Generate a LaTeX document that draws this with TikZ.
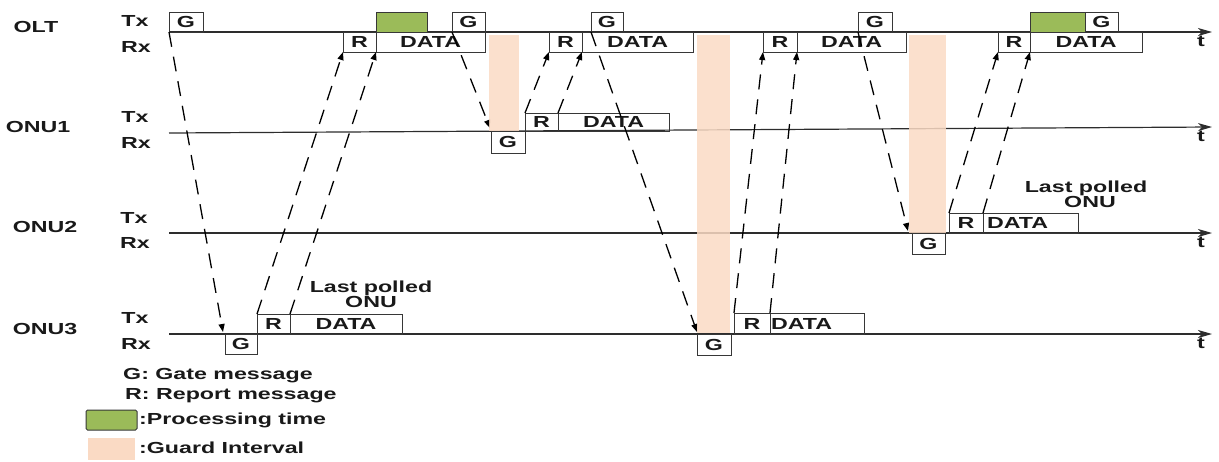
\documentclass[tikz,border=0pt]{standalone}
\usepackage{fontspec}
\newfontfamily\lbfont{Liberation Sans}[FakeStretch=1.45]
\usetikzlibrary{arrows.meta,calc}
\definecolor{procg}{RGB}{155,187,89}
\definecolor{guardc}{RGB}{250,218,196}
\definecolor{linec}{RGB}{45,45,45}
\definecolor{boxc}{RGB}{55,55,55}
\definecolor{txtc}{RGB}{25,25,25}
\newcommand\mylbl{\lbfont\bfseries\fontsize{16}{18}\selectfont}
\newcommand\Bx[7]{\node[box,#6,minimum width={#4-#2},minimum height={#5-#3}] (#1) at (#2,#3) {#7};}
\begin{document}
\begin{tikzpicture}[x=1pt,y=-1pt,
 box/.style={draw=boxc,line width=1pt,inner sep=0pt,outer sep=0pt,anchor=north west,font=\mylbl,text=txtc},
 proc/.style={fill=procg},
 txt/.style={font=\mylbl,text=txtc,inner sep=0pt,anchor=base},
 tline/.style={draw=linec,line width=1.2pt,-{Stealth[length=14pt,width=8pt,inset=4pt]}},
 msg/.style={draw=black,line width=1.3pt,dash pattern=on 15pt off 10pt,-{Triangle[length=8pt,width=6pt]}},
 guard/.style={fill=guardc,fill opacity=0.85}]
\useasboundingbox (0,0) rectangle (1219,461);
% row labels
\node[txt] (lolt) at (36,32) {OLT};
\node[txt] (ltx0) at (135,26) {Tx};
\node[txt] (lrx0) at (136,52) {Rx};
\node[txt] (lonu1) at (38,132) {ONU1};
\node[txt] (ltx1) at (135,122) {Tx};
\node[txt] (lrx1) at (136,148) {Rx};
\node[txt] (lonu2) at (45,232) {ONU2};
\node[txt] (ltx2) at (134,223) {Tx};
\node[txt] (lrx2) at (135,248) {Rx};
\node[txt] (lonu3) at (45,334) {ONU3};
\node[txt] (ltx3) at (135,323) {Tx};
\node[txt] (lrx3) at (136,349) {Rx};
% timelines
\coordinate (s0) at (169,32);  \coordinate (e0) at (1212,32);
\coordinate (s1) at (169,133); \coordinate (e1) at (1212,127);
\coordinate (s2) at (169,233); \coordinate (e2) at (1212,233);
\coordinate (s3) at (169,334); \coordinate (e3) at (1212,334);
\draw[tline] (s0) -- (e0);
\draw[tline] (s1) -- (e1);
\draw[tline] (s2) -- (e2);
\draw[tline] (s3) -- (e3);
\node[txt] (t0) at (1201,46) {t};
\node[txt] (t1) at (1201,141) {t};
\node[txt] (t2) at (1201,247) {t};
\node[txt] (t3) at (1201,348) {t};
% OLT Tx
\Bx{og1}{169}{12}{203}{32}{}{G}
\Bx{op1}{376}{12}{427}{32}{proc}{}
\Bx{og2}{452}{12}{485}{32}{}{G}
\Bx{og3}{591}{12}{623}{32}{}{G}
\Bx{og4}{858}{12}{892}{32}{}{G}
\Bx{op2}{1030}{12}{1085}{32}{proc}{}
\Bx{og5}{1085}{12}{1118}{32}{}{G}
% OLT Rx
\Bx{or1}{343}{32}{376}{52}{}{R}
\Bx{od1}{376}{32}{485}{52}{}{DATA}
\Bx{or2}{549}{32}{582}{52}{}{R}
\Bx{od2}{582}{32}{693}{52}{}{DATA}
\Bx{or3}{763}{32}{797}{52}{}{R}
\Bx{od3}{797}{32}{906}{52}{}{DATA}
\Bx{or4}{998}{32}{1030}{52}{}{R}
\Bx{od4}{1030}{32}{1142}{52}{}{DATA}
% ONU1
\Bx{ag}{491}{131}{525}{153}{}{G}
\Bx{ar}{525}{113}{558}{131}{}{R}
\Bx{ad}{558}{113}{669}{131}{}{DATA}
% ONU2
\Bx{bg}{912}{233}{945}{254}{}{G}
\Bx{br}{949}{213}{983}{233}{}{R}
\Bx{bd}{983}{213}{1078}{233}{}{}
\node[txt,anchor=west] (bdt) at ($(bd.west)+(4,0)$) {DATA};
% ONU3
\Bx{cg1}{225}{334}{257}{354}{}{G}
\Bx{cr1}{257}{314}{290}{334}{}{R}
\Bx{cd1}{290}{314}{402}{334}{}{DATA}
\Bx{cg2}{697}{334}{731}{355}{}{G}
\Bx{cr2}{734}{313}{770}{334}{}{R}
\Bx{cd2}{770}{313}{864}{334}{}{}
\node[txt,anchor=west] (cdt) at ($(cd2.west)+(1,0)$) {DATA};
% last polled
\node[txt] (lp1a) at (371,292) {Last polled};
\node[txt] (lp1b) at (371,307) {ONU};
\node[txt] (lp2a) at (1086,192) {Last polled};
\node[txt] (lp2b) at (1090,207) {ONU};
% messages
\draw[msg] (og1.south west) -- ($(cg1.north west)+(-2,-2)$);
\draw[msg] (cr1.north west) -- (or1.south west);
\draw[msg] (cd1.north west) -- (od1.south west);
\draw[msg] (og2.south west) -- ($(ag.north west)+(-1,-3)$);
\draw[msg] (ar.north west) -- (or2.south west);
\draw[msg] (ad.north west) -- (od2.south west);
\draw[msg] (og3.south west) -- ($(cg2.north west)+(0,-2)$);
\draw[msg] (cr2.north west) -- (or3.south west);
\draw[msg] (cd2.north west) -- (od3.south west);
\draw[msg] (og4.south west) -- ($(bg.north west)+(-4,-2)$);
\draw[msg] (br.north west) -- (or4.south west);
\draw[msg] (bd.north west) -- (od4.south west);
% guard intervals
\fill[guard] (489,35) rectangle (519,131);
\fill[guard] (697,35) rectangle (730,333);
\fill[guard] (909,35) rectangle (946,233);
% legend
\node[txt,anchor=base west] (lg1) at (123,379) {G: Gate message};
\node[txt,anchor=base west] (lg2) at (125,399) {R: Report message};
\node[box,proc,minimum width=51,minimum height=20,rounded corners=1.5pt] (lgp) at (86,410) {};
\node[txt,anchor=base west] (lg3) at (139,424) {:Processing time};
\node[fill=guardc,inner sep=0pt,outer sep=0pt,anchor=north west,minimum width=47,minimum height=22] (lgg) at (88,438) {};
\node[txt,anchor=base west] (lg4) at (139,453) {:Guard Interval};
\end{tikzpicture}
\end{document}
